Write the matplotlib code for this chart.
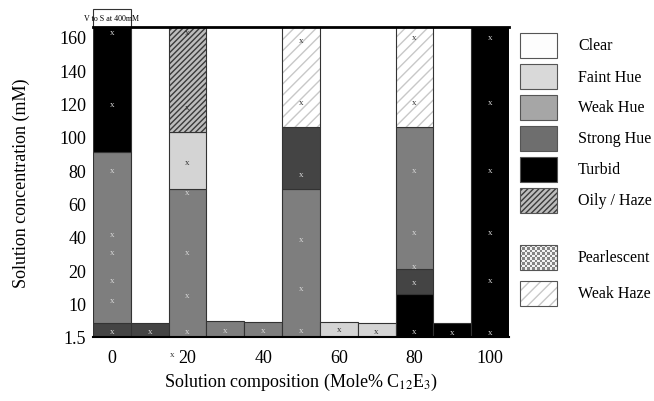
import numpy as np
import matplotlib.pyplot as plt
import matplotlib.transforms as mtransforms
from matplotlib.patches import Rectangle

plt.rcParams['font.family'] = 'Liberation Serif'
plt.rcParams['mathtext.fontset'] = 'stix'
plt.rcParams['hatch.linewidth'] = 1.0

# axis ticks (the concentration axis is spaced evenly per tick, not linearly)
conc_ticks = [1.5, 10, 20, 40, 60, 80, 100, 120, 140, 160]
comp_ticks = [0, 20, 40, 60, 80, 100]

# phase regions: composition (mole% C12E3), lower / upper concentration (mM), phase
seg_comp = [0, 0, 0, 10, 20, 20, 20, 30, 40, 50, 50, 50, 60, 70, 80, 80, 80, 80, 90, 100]
seg_low = [1.5, 5, 91, 1.5, 1.5, 69, 103, 1.5, 1.5, 1.5, 69, 106, 1.5, 1.5, 1.5, 13, 21, 106, 1.5, 1.5]
seg_high = [5, 91, 166, 5, 69, 103, 166, 5.5, 5.2, 69, 106, 166, 5.2, 5, 13, 21, 106, 166, 5, 166]
seg_phase = ['Strong Hue', 'Weak Hue', 'Turbid',
             'Strong Hue',
             'Weak Hue', 'Faint Hue', 'Oily / Haze',
             'Weak Hue', 'Weak Hue',
             'Weak Hue', 'Strong Hue', 'Weak Haze',
             'Faint Hue', 'Faint Hue',
             'Turbid', 'Strong Hue', 'Weak Hue', 'Weak Haze',
             'Turbid', 'Turbid']

# measured samples (x marks)
pt_comp = [0] * 8 + [10] + [20] * 7 + [30, 40] + [50] * 6 + [60, 70] + [80] * 7 + [90] + [100] * 6
pt_conc = [163, 120, 80, 42, 31, 17, 11, 3,
           3,
           163, 118, 85, 67, 31, 12.6, 3,
           3.3, 3.3,
           158, 121, 78, 39, 14.7, 3.3,
           3.5, 3,
           160, 121, 80, 43, 22.6, 16.5, 3,
           2.8,
           160, 121, 80, 43, 17, 2.8]

legend_labels = ['Clear', 'Faint Hue', 'Weak Hue', 'Strong Hue', 'Turbid',
                 'Oily / Haze', 'Pearlescent', 'Weak Haze']

# styles
bar_fill = {'Clear': 'white', 'Faint Hue': '#d4d4d4', 'Weak Hue': '#7e7e7e',
            'Strong Hue': '#444444', 'Turbid': 'black', 'Oily / Haze': '#bdbdbd',
            'Pearlescent': '#cccccc', 'Weak Haze': 'white'}
legend_fill = {'Clear': '#fdfdfd', 'Faint Hue': '#d9d9d9', 'Weak Hue': '#a6a6a6',
               'Strong Hue': '#6e6e6e', 'Turbid': 'black', 'Oily / Haze': '#bdbdbd',
               'Pearlescent': '#cccccc', 'Weak Haze': 'white'}
hatches = {'Oily / Haze': ('//////', '#3a3a3a'), 'Weak Haze': ('///', '#c8c8c8')}

knots = [0] + conc_ticks + [180]
knot_pos = [-1.5 / 8.5] + list(range(len(conc_ticks))) + [len(conc_ticks)]


def fwd(v):
    return np.interp(v, knots, knot_pos)


def inv(p):
    return np.interp(p, knot_pos, knots)


fig = plt.figure(figsize=(6.54, 4.02), dpi=100)
ax = fig.add_axes([93 / 654, 1 - 338 / 402, 416 / 654, 310 / 402])
ax.set_yscale('function', functions=(fwd, inv))

for c, lo, hi, ph in zip(seg_comp, seg_low, seg_high, seg_phase):
    if ph in hatches:
        h, hc = hatches[ph]
        ax.bar(c, hi - lo, bottom=lo, width=10, color=bar_fill[ph],
               edgecolor=hc, hatch=h, linewidth=0)
        ax.bar(c, hi - lo, bottom=lo, width=10, fill=False,
               edgecolor='#333333', linewidth=0.8)
    else:
        ax.bar(c, hi - lo, bottom=lo, width=10, color=bar_fill[ph],
               edgecolor='#333333', linewidth=0.8)

dark = {'Turbid', 'Strong Hue', 'Weak Hue'}
for c, v in zip(pt_comp, pt_conc):
    col = '#333333'
    for sc, lo, hi, ph in zip(seg_comp, seg_low, seg_high, seg_phase):
        if sc == c and lo <= v <= hi and ph in dark:
            col = '#d8d8d8'
    ax.text(c, v, 'x', ha='center', va='center', fontsize=6.5, color=col)

ax.set_xlim(-5, 105)
ax.set_ylim(1.5, 166)
ax.set_xticks(comp_ticks)
ax.set_xticklabels([str(t) for t in comp_ticks])
ax.set_yticks(conc_ticks)
ax.set_yticklabels([f'{t:g}' for t in conc_ticks])
ax.tick_params(axis='both', length=0, labelsize=13)
ax.tick_params(axis='x', pad=9)
ax.tick_params(axis='y', pad=5)
ax.spines['left'].set_visible(False)
ax.spines['right'].set_visible(False)
ax.spines['top'].set_linewidth(2)
ax.spines['bottom'].set_linewidth(1.5)
ax.set_xlabel('Solution composition (Mole% C$_{12}$E$_{3}$)', fontsize=13, labelpad=3)
ax.set_ylabel('Solution concentration (mM)', fontsize=13, labelpad=21)

trans = mtransforms.blended_transform_factory(ax.transData, ax.transAxes)
ax.add_patch(Rectangle((-5, 1.0), 10, 0.058, transform=trans, clip_on=False,
                       facecolor='white', edgecolor='#333333', linewidth=0.8))
ax.text(0, 1.03, 'V to S at 400mM', transform=trans, ha='center', va='center',
        fontsize=5.8)
ax.text(16, -0.055, 'x', transform=trans, ha='center', va='center', fontsize=6.5,
        color='#333333')

# legend drawn by hand (pixel-like coordinates)
lax = fig.add_axes([512 / 654, 0, 142 / 654, 1])
lax.set_xlim(512, 654)
lax.set_ylim(402, 0)
lax.axis('off')
for i, lab in enumerate(legend_labels):
    top = 34 + 31 * i + (26 if i >= 6 else 0) + (5 if i == 7 else 0)
    if lab == 'Pearlescent':
        chk = (np.add.outer(np.arange(10), np.arange(15)) % 2).astype(float)
        lax.imshow(chk, cmap='gray', vmin=-1.2, vmax=1.1, extent=(520, 557, top + 25, top),
                   interpolation='nearest', aspect='auto')
        lax.add_patch(Rectangle((520, top), 37, 25, fill=False, edgecolor='#555555',
                                linewidth=0.8))
    elif lab in hatches:
        h, hc = hatches[lab]
        lax.add_patch(Rectangle((520, top), 37, 25, facecolor=legend_fill[lab],
                                edgecolor=hc, hatch=h, linewidth=0))
        lax.add_patch(Rectangle((520, top), 37, 25, fill=False, edgecolor='#555555',
                                linewidth=0.8))
    else:
        lax.add_patch(Rectangle((520, top), 37, 25, facecolor=legend_fill[lab],
                                edgecolor='#555555', linewidth=0.8))
    lax.text(578, top + 12.5, lab, ha='left', va='center', fontsize=11.5)
lax.set_xlim(512, 654)
lax.set_ylim(402, 0)

fig.savefig('out.png', dpi=100)
